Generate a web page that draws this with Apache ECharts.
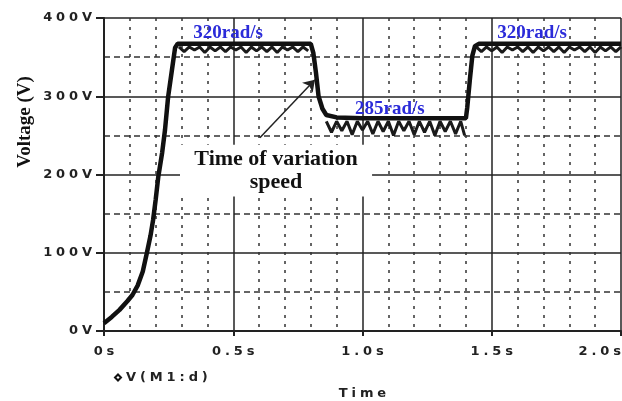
<!DOCTYPE html>
<html>
<head>
<meta charset="utf-8">
<style>
  html, body { margin: 0; padding: 0; background: #fff; }
  #main { width: 622px; height: 401px; }
</style>
<script src="https://cdn.jsdelivr.net/npm/echarts@6/dist/echarts.min.js"></script>
</head>
<body>
<div id="main"></div>
<script>
// 电压波形（时间 s，电压 V）
var timeData = [0, 0.03, 0.06, 0.09, 0.11, 0.13, 0.15, 0.166, 0.18, 0.19, 0.2, 0.21, 0.225, 0.236, 0.248, 0.263, 0.275, 0.285,
  0.8, 0.81, 0.82, 0.83, 0.845, 0.86, 0.9, 1.0, 1.2, 1.4,
  1.405, 1.415, 1.425, 1.435, 1.45, 2.0];
var voltData = [10, 18, 27, 38, 46, 58, 76, 100, 122, 142, 168, 197, 228, 257, 299, 334, 362, 367,
  367, 355, 330, 300, 284, 276, 273, 272, 272, 272,
  285, 320, 352, 364, 367, 367];
// 纹波下沿（平台段毛刺）
var rippleTime1 = [0.29, 0.31, 0.33, 0.35, 0.37, 0.39, 0.41, 0.43, 0.45, 0.47, 0.49, 0.51, 0.53, 0.55, 0.57,
  0.59, 0.61, 0.63, 0.65, 0.67, 0.69, 0.71, 0.73, 0.75, 0.77, 0.79];
var rippleVolt1 = [363, 357, 363, 359, 363, 356, 363, 358, 363, 357, 363, 359, 363, 356, 363,
  358, 363, 357, 363, 356, 363, 359, 363, 357, 363, 358];
var rippleTime2 = [0.86, 0.88, 0.9, 0.92, 0.94, 0.96, 0.98, 1.0, 1.02, 1.04, 1.06, 1.08, 1.1, 1.12, 1.14,
  1.16, 1.18, 1.2, 1.22, 1.24, 1.26, 1.28, 1.3, 1.32, 1.34, 1.36, 1.38, 1.395];
var rippleVolt2 = [268, 254, 268, 256, 268, 251, 268, 257, 268, 252, 268, 255, 268, 250, 268,
  256, 268, 251, 268, 254, 268, 250, 268, 255, 268, 252, 268, 250];
var rippleTime3 = [1.44, 1.46, 1.48, 1.5, 1.52, 1.54, 1.56, 1.58, 1.6, 1.62, 1.64, 1.66, 1.68, 1.7, 1.72,
  1.74, 1.76, 1.78, 1.8, 1.82, 1.84, 1.86, 1.88, 1.9, 1.92, 1.94, 1.96, 1.98, 2.0];
var rippleVolt3 = [363, 357, 363, 358, 363, 356, 363, 359, 363, 357, 363, 356, 363, 358, 363,
  357, 363, 356, 363, 359, 363, 357, 363, 356, 363, 358, 363, 357, 363];
// 转速标注
var speedLabels = ['320rad/s', '285rad/s', '320rad/s'];
var speedPos = [[0.48, 381], [1.106, 283], [1.656, 381]];
// 变速时刻箭头
var arrowFrom = [0.603, 247];
var arrowTo = [0.816, 321];
var noteBox = [[0.294, 172], [1.037, 238]];
var noteText = 'Time of variation\nspeed';

function pairs(xs, ys) {
  return xs.map(function (x, i) { return [x, ys[i]]; });
}
// 宽字距的仿位图字体
function spaced(s) {
  return s.split('').join('\u2009\u200a');
}

var myChart = echarts.init(document.getElementById('main'));
var axisFont = { fontFamily: 'DejaVu Sans', fontWeight: 'bold', fontSize: 13, color: '#222' };
var rippleStyle = { color: '#1a1a1a', width: 3 };

myChart.setOption({
  animation: false,
  grid: { left: 104, top: 18, right: 1, bottom: 70, outerBoundsMode: 'none' },
  legend: {
    left: 109, top: 366,
    itemWidth: 6, itemHeight: 6, itemGap: 14,
    icon: 'emptyDiamond',
    textStyle: axisFont,
    formatter: function (n) { return spaced(n); },
    data: ['V(M1:d)']
  },
  graphic: [{
    type: 'text', x: 25, y: 122, rotation: Math.PI / 2,
    style: {
      text: 'Voltage (V)', fill: '#111', align: 'center', verticalAlign: 'middle',
      font: 'bold 19px "Liberation Serif"'
    }
  }],
  xAxis: {
    type: 'value', min: 0, max: 2, interval: 0.5,
    name: spaced('Time'), nameLocation: 'middle', nameGap: 56,
    nameTextStyle: axisFont,
    axisLine: { show: true, onZero: false, lineStyle: { color: '#222', width: 2 } },
    axisTick: { show: true, length: 5, lineStyle: { color: '#222', width: 2 } },
    axisLabel: Object.assign({
      margin: 14, alignMaxLabel: 'right',
      formatter: function (v) { return spaced(v === 0 ? '0s' : v.toFixed(1) + 's'); }
    }, axisFont),
    splitLine: { show: true, lineStyle: { color: '#222', width: 1.5 } },
    minorTick: { show: true, splitNumber: 5, length: 0 },
    minorSplitLine: { show: true, lineStyle: { color: '#333', width: 1.5, type: [3, 6] } }
  },
  yAxis: {
    type: 'value', min: 0, max: 400, interval: 100,
    axisLine: { show: true, lineStyle: { color: '#222', width: 2 } },
    axisTick: { show: true, length: 8, lineStyle: { color: '#222', width: 2 } },
    axisLabel: Object.assign({
      margin: 12,
      formatter: function (v) { return spaced(v + 'V'); }
    }, axisFont),
    splitLine: { show: true, lineStyle: { color: '#222', width: 1.5 } },
    minorTick: { show: true, splitNumber: 2, length: 0 },
    minorSplitLine: { show: true, lineStyle: { color: '#333', width: 1.5, type: [6, 4] } }
  },
  series: [{
    name: 'V(M1:d)',
    type: 'line',
    data: pairs(timeData, voltData),
    showSymbol: false,
    symbol: 'emptyDiamond',
    itemStyle: { color: '#111' },
    lineStyle: { color: '#111', width: 4.5 },
    z: 3,
    markArea: {
      silent: true,
      itemStyle: { color: '#fff' },
      label: {
        show: true, position: 'inside', color: '#111', lineHeight: 23,
        fontFamily: 'Liberation Serif', fontWeight: 'bold', fontSize: 22,
        formatter: noteText
      },
      data: [[{ coord: noteBox[0] }, { coord: noteBox[1] }]]
    },
    markLine: {
      silent: true,
      symbol: ['none', 'arrow'], symbolSize: 11,
      lineStyle: { color: '#222', width: 1.5, type: 'solid' },
      label: { show: false },
      data: [[{ coord: arrowFrom }, { coord: arrowTo }]]
    },
    markPoint: {
      silent: true,
      symbol: 'rect', symbolSize: 0,
      label: {
        show: true, color: '#2b2bd9', fontFamily: 'Liberation Serif', fontWeight: 'bold', fontSize: 19,
        formatter: function (p) { return p.name; }
      },
      data: speedLabels.map(function (s, i) { return { name: s, coord: speedPos[i] }; })
    }
  }, {
    name: 'ripple1', type: 'line', data: pairs(rippleTime1, rippleVolt1),
    showSymbol: false, silent: true, lineStyle: rippleStyle, z: 2
  }, {
    name: 'ripple2', type: 'line', data: pairs(rippleTime2, rippleVolt2),
    showSymbol: false, silent: true, lineStyle: rippleStyle, z: 2
  }, {
    name: 'ripple3', type: 'line', data: pairs(rippleTime3, rippleVolt3),
    showSymbol: false, silent: true, lineStyle: rippleStyle, z: 2
  }]
});
</script>
</body>
</html>
